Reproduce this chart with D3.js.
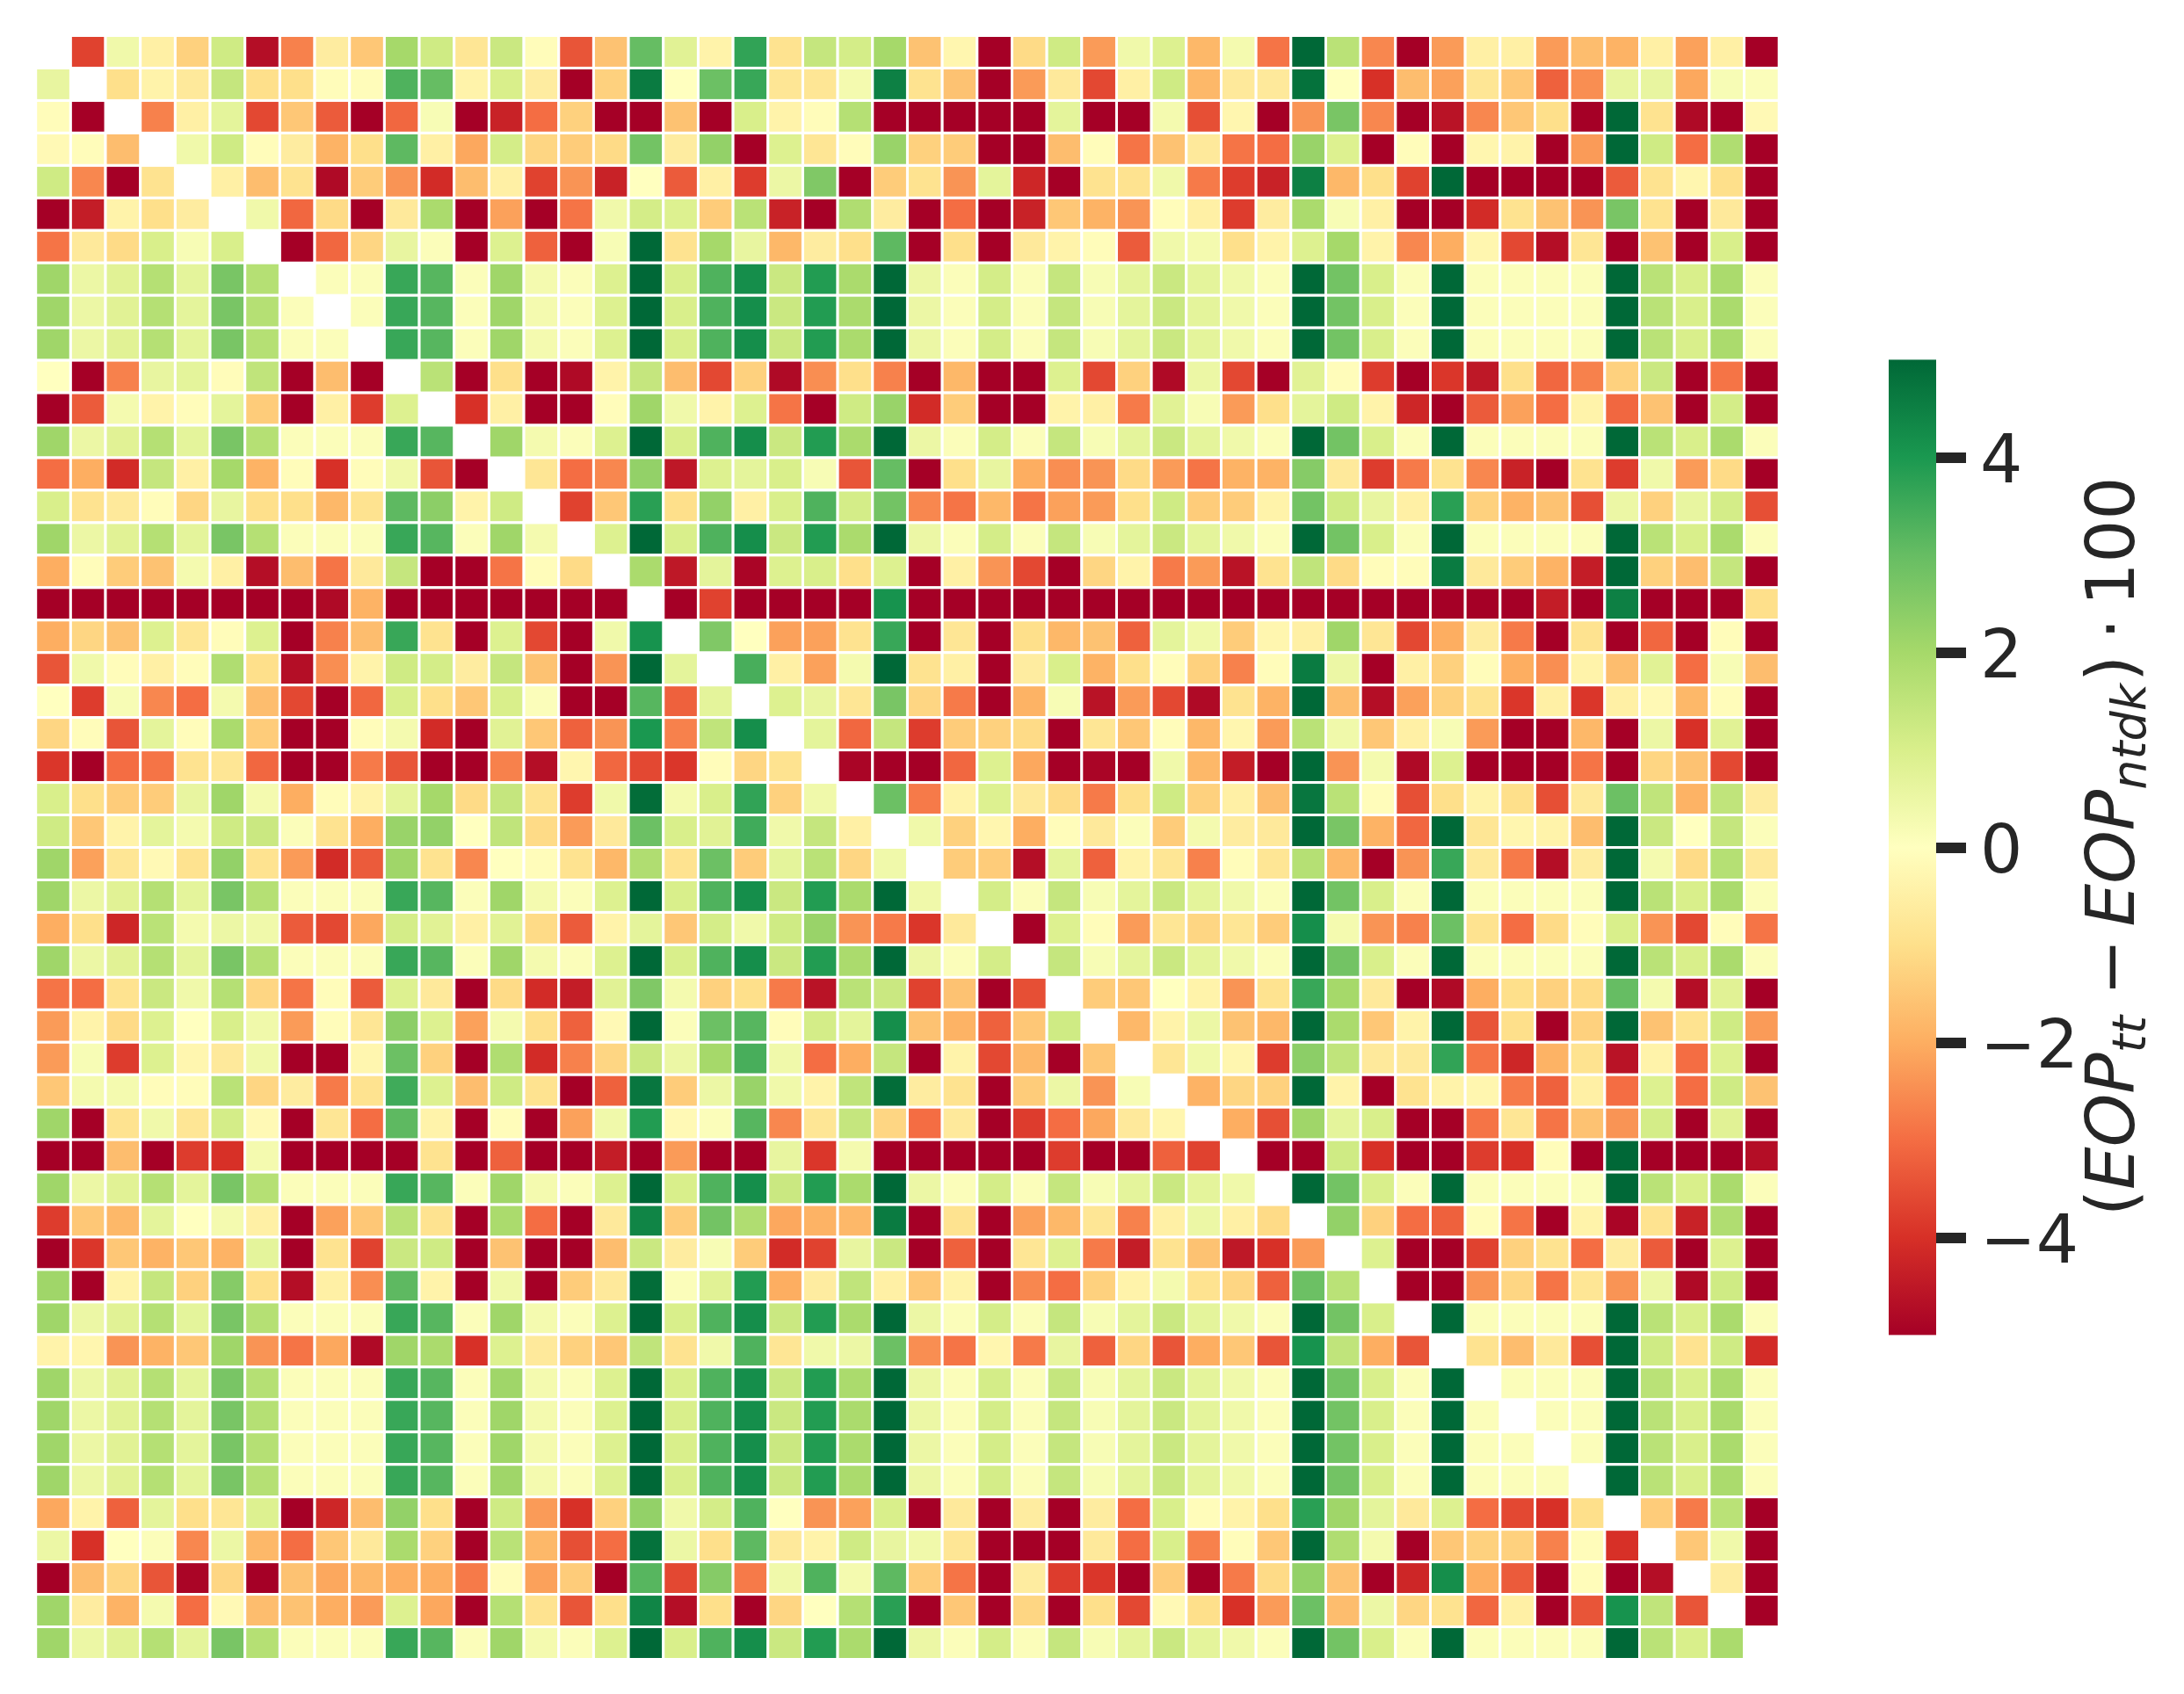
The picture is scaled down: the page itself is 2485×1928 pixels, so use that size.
<!DOCTYPE html>
<html><head><meta charset="utf-8">
<script src="https://cdn.jsdelivr.net/npm/d3@7"></script>
<style>html,body{margin:0;padding:0;background:#fff}svg{display:block}</style>
</head><body><svg id="c" width="2485" height="1928"></svg>
<script>
const colorStops=["#a50026","#d73027","#f46d43","#fdae61","#fee08b","#ffffbf","#d9ef8b","#a6d96a","#66bd63","#1a9850","#006837"];
const colorDomain=[-5,-4,-3,-2,-1,0,1,2,3,4,5];
const barTicks=[-4,-2,0,2,4];
const r00=[null,-3.7,.4,-.5,-1.3,1.2,-4.7,-2.7,-.6,-1.5,2,1.2,-.8,1.3,-.1,-3.4,-1.6,3,.8,-.4,3.7,-.9,1.4,1.1,2,-1.6,-.3,-5,-1.1,1.2,-2.3,.4,.9,-1.8,.3,-2.9,5,1.6,-2.6,-5,-2.3,-.5,-.5,-2.3,-1.7,-1.9,-.5,-2.2,-.5,-5];
const r01=[.6,null,-1,-.4,-.7,1.4,-1,-1,-.1,-.1,3.3,3,-.4,1,-.6,-5,-1.3,4.6,0,2.9,3.6,-.8,-.8,.3,4.5,-.9,-1.6,-5,-2.3,-.7,-3.6,-.5,1.2,-1.8,-.7,-.7,4.8,0,-4,-1.7,-2.2,-.8,-1.5,-3.2,-2.5,.6,.6,-2.1,.2,.1];
const r02=[-.1,-5,null,-2.7,-.5,.7,-3.6,-1.5,-3.3,-5,-3.1,.2,-5,-4.3,-3,-1.3,-5,-5,-1.6,-5,1,-.4,-.1,1.7,-5,-5,-5,-5,-5,.7,-5,-5,.3,-3.5,-.3,-5,-2.4,2.7,-2.6,-5,-4.6,-2.6,-1.5,-1,-5,5,-.9,-4.8,-5,-.2];
const r03=[-.2,-.1,-1.7,null,.4,1.2,-.1,-.6,-1.9,-1,3.1,-.5,-2.1,1.1,-1.2,-1.4,-1.1,2.8,-.6,2.3,-5,.9,-.8,-.1,2.2,-1.3,-1.4,-5,-5,-1.7,-.1,-2.9,-1.6,-.7,-2.9,-3,2.2,.9,-5,-.1,-5,-.3,-.4,-5,-2.3,5,1.2,-3,1.8,-5];
const r04=[1.2,-2.6,-5,-.9,null,-.5,-1.7,-.9,-4.8,-1.4,-2.4,-4.1,-1.7,-.5,-3.7,-2.4,-4.3,0,-3.3,-.5,-3.8,.5,2.6,-5,-1.4,-.9,-2.4,.7,-4.2,-5,-.9,-.9,.4,-2.8,-3.8,-4.3,4.5,-1.8,-1,-3.7,5,-5,-5,-5,-5,-3.3,-.9,-.3,-1,-5];
const r05=[-5,-4.4,-.4,-1,-.6,null,.4,-3.1,-1.1,-5,-.7,1.9,-5,-2.2,-5,-2.9,.4,1.1,.9,-1.4,1.6,-4.3,-5,1.8,-.6,-5,-3,-5,-4.3,-1.5,-1.9,-2.4,-.1,-.5,-3.8,-.6,1.9,.2,-.5,-5,-5,-4.1,-.9,-1.6,-2.4,2.7,-.9,-5,-.7,-5];
const r06=[-2.9,-.7,-1.1,1,.2,1,null,-5,-3.1,-1.2,.6,.1,-5,.9,-3.2,-5,.2,5,-.9,2,.6,-1.8,-.6,-1,3.1,-5,-1,-5,-.7,-.4,-.1,-3.3,.4,.3,-1,-.4,.9,2,-.4,-2.6,-2,-.3,-3.6,-4.7,-.8,-5,-1.6,-5,1,-5];
const r07=[2.1,.5,.8,1.7,.7,2.7,1.7,null,.1,.1,3.6,3.2,.1,2.1,.3,.1,.9,5,1,3.3,4.2,1.3,3.9,1.9,5,.5,.1,1.1,.1,1.4,.2,.7,1.3,.7,.4,.1,5,2.8,1,.1,5,.1,.1,.1,.1,5,1.6,1,1.9,.1];
const r08=[2.1,.5,.8,1.7,.7,2.7,1.7,.1,null,.1,3.6,3.2,.1,2.1,.3,.1,.9,5,1,3.3,4.2,1.3,3.9,1.9,5,.5,.1,1.1,.1,1.4,.2,.7,1.3,.7,.4,.1,5,2.8,1,.1,5,.1,.1,.1,.1,5,1.6,1,1.9,.1];
const r09=[2.1,.5,.8,1.7,.7,2.7,1.7,.1,.1,null,3.6,3.2,.1,2.1,.3,.1,.9,5,1,3.3,4.2,1.3,3.9,1.9,5,.5,.1,1.1,.1,1.4,.2,.7,1.3,.7,.4,.1,5,2.8,1,.1,5,.1,.1,.1,.1,5,1.6,1,1.9,.1];
const r10=[0,-5,-2.7,.6,.7,-.1,1.5,-5,-1.7,-5,null,1.6,-5,-1,-5,-4.8,-.4,1.4,-1.7,-3.6,-1.3,-4.8,-2.5,-1,-2.7,-5,-1.8,-5,-5,.9,-3.6,-1.3,-4.8,.5,-3.6,-5,.8,-.1,-3.8,-5,-3.9,-4.5,-1,-3.1,-2.7,-1.3,1.3,-5,-2.9,-5];
const r11=[-5,-3.3,.3,-.4,-.1,.7,-1.4,-5,-.5,-3.8,.9,null,-4,-.5,-5,-5,-.1,2.1,.4,-.4,.9,-2.9,-5,1.2,2.2,-4.1,-1.4,-5,-5,-.4,-.5,-2.8,.8,.2,-2.3,-1,.7,1.2,-.4,-4.2,-5,-3.3,-2.2,-3,-.4,-3.1,-1.6,-5,1.1,-5];
const r12=[2.1,.5,.8,1.7,.7,2.7,1.7,.1,.1,.1,3.6,3.2,null,2.1,.3,.1,.9,5,1,3.3,4.2,1.3,3.9,1.9,5,.5,.1,1.1,.1,1.4,.2,.7,1.3,.7,.4,.1,5,2.8,1,.1,5,.1,.1,.1,.1,5,1.6,1,1.9,.1];
const r13=[-3,-2,-4.1,1.4,-.5,2,-1.9,-.1,-4,-.1,.4,-3.4,-5,null,-.8,-3,-2.6,2.3,-4.5,.9,.7,1,.2,-3.4,3,-5,-1,.6,-2,-2.5,-2.4,-1.1,-2.3,-2.9,-1.9,-1.9,2.5,-.7,-3.8,-2.8,-.9,-2.6,-4.3,-5,-.9,-3.8,.4,-2.3,-1.1,-5];
const r14=[1,-.9,-.7,-.1,-1.2,.6,-1,-1,-1.8,-.9,3.1,2.4,-.4,1.2,null,-3.7,-1.5,3.8,-1,2.3,-.5,1,3.3,1.1,2.8,-2.6,-2.9,-1.8,-2.9,-2.2,-2.3,-1,1.2,-1.4,-1.4,-.4,2.8,1.2,.6,-.5,3.8,-1.3,-1.9,-1.6,-3.5,.5,-1.3,.6,1.1,-3.5];
const r15=[2.1,.5,.8,1.7,.7,2.7,1.7,.1,.1,.1,3.6,3.2,.1,2.1,.3,null,.9,5,1,3.3,4.2,1.3,3.9,1.9,5,.5,.1,1.1,.1,1.4,.2,.7,1.3,.7,.4,.1,5,2.8,1,.1,5,.1,.1,.1,.1,5,1.6,1,1.9,.1];
const r16=[-2,-.1,-1.4,-1.6,.3,-.5,-4.7,-1.7,-2.9,-.7,1.4,-5,-5,-2.9,-.1,-1.1,null,1.9,-4.5,.7,-4.9,.9,1,-1,.9,-5,-.5,-2.4,-3.6,-5,-1.2,-.4,-2.8,-2.3,-4.6,-.9,1.5,-1.1,-.1,-.1,4.6,-.7,-1.4,-1.9,-4.4,5,-1.3,-1.7,1.4,-5];
const r17=[-5,-5,-5,-5,-5,-5,-5,-5,-4.8,-1.9,-5,-5,-5,-5,-5,-5,-5,null,-5,-3.7,-5,-5,-5,-5,4.1,-5,-5,-5,-5,-5,-5,-5,-5,-5,-5,-5,-5,-5,-5,-5,-5,-5,-5,-4.4,-5,4.5,-5,-5,-5,-1];
const r18=[-2,-1.2,-1.6,.9,-.8,-.1,.9,-5,-2.7,-1.7,3.6,-.9,-5,.9,-3.6,-5,.4,4.1,null,2.6,0,-2.2,-2.2,-.9,3.6,-5,-.8,-5,-1,-1.8,-1.6,-3.2,.7,.4,-1.4,-.3,-.5,2.1,-.8,-3.6,-2,-.6,-2.8,-5,-.9,-5,-3.1,-5,-.1,-5];
const r19=[-3.4,.4,-.1,-.5,-.1,1.8,-1,-4.7,-2.5,-.4,1.2,1.1,-.6,1.4,-1.6,-5,-2.4,5,.7,null,3.4,-.5,-2.2,.3,5,-.9,-.5,-5,-.6,1,-1.9,-1,-.1,-1.3,-2.7,-.1,4.6,.5,-5,-.5,-1.3,-.1,-2,-2.5,-.4,-1.7,.8,-3,.2,-1.7];
const r20=[0,-3.8,.2,-2.6,-3,.3,-1.7,-3.6,-5,-3.1,1,-1,-1.5,1,.1,-5,-5,3.2,-3.2,.7,null,.9,.6,-.8,2.7,-1.2,-2.8,-5,-1.9,.2,-4.6,-2.3,-3.6,-4.8,-.9,-1.9,5,-1.7,-4.7,-2.2,-1.3,-.9,-3.9,-.5,-3.9,-.5,-.2,-1.8,-.1,-5];
const r21=[-1.2,-.1,-3.4,.7,-.1,1.9,-1.4,-5,-5,-.1,.3,-4.1,-5,.8,-1.5,-3.2,-2.4,4,-2.7,1.5,4.2,null,.7,-3.1,1.4,-3.8,-1.4,-1.3,-1.1,-5,-.8,-1.5,-.1,-1.8,-.3,-2.3,1.6,.4,-1.5,-.5,.2,-2.3,-5,-5,-1.8,-5,.5,-4,.8,-5];
const r22=[-3.9,-5,-3,-2.9,-.9,-.8,-3.1,-5,-5,-2.8,-3.4,-5,-5,-2.7,-4.7,-.3,-3.1,-3.6,-3.9,-.1,-1.2,-.9,null,-4.9,-5,-5,-3.1,.9,-2.1,-5,-4.9,-5,.4,-1.8,-4.4,-5,5,-2.4,.3,-4.8,.9,-5,-5,-5,-2.9,-5,-1.2,-1.6,-3.6,-5];
const r23=[1,-1,-1.4,-1.4,.6,2.1,.3,-2,-.1,-.4,.7,2,-1.1,1.4,-.9,-3.8,.4,4.9,.3,1,3.7,-1.3,.4,null,2.9,-2.8,-.4,.9,-.7,-1.1,-2.8,-1,1.2,-1.3,-.5,-1.7,4.7,1.6,-.1,-3.5,-1,-.4,-1,-3.5,-.7,2.9,1.5,-1.9,1.5,-.6];
const r24=[1.2,-1.5,-.4,.7,.3,1.2,1.3,.1,-.9,-2,2.2,2.3,0,1.5,-1.1,-2.3,-.7,2.9,1,.8,3.5,.4,1.4,-.5,null,.4,-1.3,-.3,-2,-.1,-.7,.1,-1.4,.3,-.6,-.7,5,2.7,-1.9,-3.1,5,-.8,-.3,-.4,-1.7,5,1.3,0,1.4,.1];
const r25=[2.1,-2.2,-.8,-.2,-.9,2.3,-.9,-2.3,-4.1,-3.3,2.1,-.9,-2.6,0,-.1,-.9,-1.8,1.8,-.9,2.9,-1.4,.7,1.6,-1.2,.4,null,-1.4,-1.4,-4.7,.7,-3.2,-.4,-.8,-2.7,-.1,-.8,1.7,-1.8,-5,-2.4,3.6,-.7,-2.8,-4.7,-.6,5,.3,-1.1,1.7,-.7];
const r26=[2.1,.5,.8,1.7,.7,2.7,1.7,.1,.1,.1,3.6,3.2,.1,2.1,.3,.1,.9,5,1,3.3,4.2,1.3,3.9,1.9,5,.4,null,1.1,.1,1.4,.2,.7,1.3,.7,.4,.1,5,2.8,1,.1,5,.1,.1,.1,.1,5,1.6,1,1.9,.1];
const r27=[-2,-1,-4.2,1.6,.3,.5,.4,-3.3,-3.6,-2.1,1.1,.8,-.5,.8,-1.1,-3.3,-.4,.7,-1.5,1.1,.4,1.2,2.2,-2.4,-2.8,-3.9,-.7,null,-5,.9,-.1,-2.3,-.8,-1.2,-.8,-1.4,4.2,.3,-2.4,-2.7,2.9,-.9,-3,-1.1,-.1,1,-2.4,-3.6,-.1,-2.9];
const r28=[2.1,.5,.8,1.7,.7,2.7,1.7,.1,.1,.1,3.6,3.2,.1,2.1,.3,.1,.9,5,1,3.3,4.2,1.3,3.9,1.9,5,.5,.1,1.1,null,1.4,.2,.7,1.3,.7,.4,.1,5,2.8,1,.1,5,.1,.1,.1,.1,5,1.6,1,1.9,.1];
const r29=[-2.9,-3,-.9,1.3,.4,1.7,-1.2,-2.9,-.1,-3.3,.9,-.7,-5,-1.1,-4.1,-4.4,.8,2.6,.3,-1.3,-1,-2.8,-4.6,1.6,1.3,-3.7,-1.6,-5,-3.5,null,-1.4,-1.5,0,-.4,-2.4,-.9,3.6,2,-.7,-5,-4.8,-2,-1,-1.3,-1.1,3,.3,-4.7,.8,-5];
const r30=[-2.3,-.4,-1.1,.9,0,1,.4,-2.3,-.1,-.8,2.4,.9,-2.2,.3,-1,-3.2,-.2,5,.1,2.9,3.2,-.1,1.1,.7,4.2,-1.6,-1.9,-3.2,-1.5,1.2,null,-1.8,-.4,.5,-1.6,-1.8,5,1.9,-1.5,-.4,5,-3.4,-1,-5,-1.3,5,-1.6,-.9,1.2,-2.3];
const r31=[-2.3,.2,-3.8,.9,-.3,-.7,.4,-5,-5,-.3,2.9,-1.3,-5,1.8,-4.1,-2.7,-1.2,1.3,.5,2,3.4,.4,-3,-2,1.4,-5,-.4,-3.6,-1.8,-5,-1.5,null,-.8,.4,-.3,-3.8,2.4,1.5,-.7,-.7,3.7,-2.9,-4.2,-1.9,-.9,-4.6,-.4,-3,.9,-5];
const r32=[-1.5,.3,.3,-.1,-.1,1.6,-1.2,-.6,-2.8,-.9,3.5,.9,-1.7,1.2,-.9,-5,-3.2,4.7,-1.4,.5,2.2,.4,-.4,1.5,4.9,-.6,-.9,-5,-1.4,.5,-2.4,.2,null,-1.9,-1.2,-1.3,5,-.4,-5,-.9,-.4,-.3,-2.8,-3.2,-.5,-3,.9,-3,1.2,-1.6];
const r33=[2.1,-5,-.9,.4,-.8,1.1,-.2,-5,-.8,-3,3.1,-.4,-5,-.1,-5,-2.2,.4,3.9,-.2,.1,3.2,-2.6,-.8,1.4,-1.2,-3,-.7,-5,-3.8,-3,-2.1,-.7,-.3,null,-2,-3.5,2.1,.7,1,-5,-5,-2.9,-.8,-2.9,-1.6,-2.4,1.1,-5,.8,-5];
const r34=[-5,-5,-1.7,-5,-3.8,-4,.3,-5,-5,-5,-5,-.9,-5,-3.2,-5,-5,-4.4,-5,-2.3,-5,-5,.6,-3.9,.3,-5,-5,-5,-5,-5,-3.8,-5,-5,-3.2,-3.7,null,-5,-5,1.2,-4,-5,-5,-3.8,-4,-.1,-5,5,-5,-5,-5,-4.7];
const r35=[2.1,.5,.8,1.7,.7,2.7,1.7,.1,.1,.1,3.6,3.2,.1,2.1,.3,.1,.9,5,1,3.3,4.2,1.3,3.9,1.9,5,.5,.1,1.1,.1,1.4,.2,.7,1.3,.7,.4,null,5,2.8,1,.1,5,.1,.1,.1,.1,5,1.6,1,1.9,.1];
const r36=[-3.8,-1.5,-1.8,.7,0,.3,-.5,-5,-2.2,-1.5,1.6,-.9,-5,1.9,-3,-5,-.7,4.4,-1.4,2.8,1.8,-2.1,-1.9,-1.8,4.6,-5,-.9,-5,-2.2,-1.8,-.8,-2.7,-.5,.5,-.5,-1.1,null,2.3,-1.3,-3,-3.2,-.1,-2.9,-5,-.4,-4.9,-.9,-4.3,1.8,-5];
const r37=[-5,-3.9,-1.5,-1.9,-1.5,-1.9,.7,-5,-.9,-3.7,1.3,1.2,-5,-1.6,-5,-5,-1.7,1.3,-.6,.2,-1.4,-4.1,-3.7,.6,1.3,-5,-3.2,-5,-.8,.9,-2.8,-4.4,-.9,-1.6,-4.5,-4,-2.3,null,.9,-5,-5,-3.7,-1.3,-.9,-3,-.6,-3.3,-5,.9,-5];
const r38=[2.1,-5,-.4,1.4,-1.3,2.5,-1,-4.7,-.5,-2.5,3.1,-.4,-5,.4,-5,-1.4,-.7,4.9,.1,.8,3.9,-2,-.6,1.5,-.5,-1.5,-.4,-5,-2.6,-3,-1.3,-.4,.3,-.9,-1.2,-3.2,2.9,1.6,null,-5,-5,-2.4,-1.2,-2.9,-.8,-2.4,.5,-4.8,1.2,-5];
const r39=[2.1,.5,.8,1.7,.7,2.7,1.7,.1,.1,.1,3.6,3.2,.1,2.1,.3,.1,.9,5,1,3.3,4.2,1.3,3.9,1.9,5,.5,.1,1.1,.1,1.4,.2,.7,1.3,.7,.4,.1,5,2.8,1,null,5,.1,.1,.1,.1,5,1.6,1,1.9,.1];
const r40=[-.4,-.3,-2.4,-1.9,-1.5,2.1,-2.4,-2.9,-2.1,-4.8,2.1,1.9,-4,.9,-.7,-1.3,-1.5,1.5,-.9,.4,3.3,-.8,.4,.5,2.9,-2.5,-2.9,-.3,-2.8,.6,-3.2,-1.2,-3.4,-2,-1.5,-3.4,4.1,1.5,-2,-3.4,null,-.9,-1.7,-.7,-3.5,5,1.2,-.9,1.2,-4.1];
const r41=[2.1,.5,.8,1.7,.7,2.7,1.7,.1,.1,.1,3.6,3.2,.1,2.1,.3,.1,.9,5,1,3.3,4.2,1.3,3.9,1.9,5,.5,.1,1.1,.1,1.4,.2,.7,1.3,.7,.4,.1,5,2.8,1,.1,5,null,.1,.1,.1,5,1.6,1,1.9,.1];
const r42=[2.1,.5,.8,1.7,.7,2.7,1.7,.1,.1,.1,3.6,3.2,.1,2.1,.3,.1,.9,5,1,3.3,4.2,1.3,3.9,1.9,5,.5,.1,1.1,.1,1.4,.2,.7,1.3,.7,.4,.1,5,2.8,1,.1,5,.1,null,.1,.1,5,1.6,1,1.9,.1];
const r43=[2.1,.5,.8,1.7,.7,2.7,1.7,.1,.1,.1,3.6,3.2,.1,2.1,.3,.1,.9,5,1,3.3,4.2,1.3,3.9,1.9,5,.5,.1,1.1,.1,1.4,.2,.7,1.3,.7,.4,.1,5,2.8,1,.1,5,.1,.1,null,.1,5,1.6,1,1.9,.1];
const r44=[2.1,.5,.8,1.7,.7,2.7,1.7,.1,.1,.1,3.6,3.2,.1,2.1,.3,.1,.9,5,1,3.3,4.2,1.3,3.9,1.9,5,.5,.1,1.1,.1,1.4,.2,.7,1.3,.7,.4,.1,5,2.8,1,.1,5,.1,.1,.1,null,5,1.6,1,1.9,.1];
const r45=[-2.1,-.4,-3.2,.7,-1,-.8,.9,-5,-4.2,-1.7,2.3,-1,-5,1.2,-2.3,-4,-1.3,2.3,.4,1.1,3.3,0,-2.4,-2.2,1,-5,-.7,-5,-.6,-5,-.6,-3,1,-.1,-.4,-1,3.8,2.1,.7,-.7,.9,-3,-3.6,-4,-1,null,-1.4,-2.8,1.6,-5];
const r46=[.5,-4,0,.1,-2.6,.5,-1.8,-3,-1.5,-.7,1.9,-1.3,-5,1.6,-1.8,-3.5,-3,4.8,.5,-1,3.1,-.7,-.4,1.2,.6,.4,-.8,-5,-5,-5,-.7,-3,1,-2.7,-.1,-1.5,5,1.8,.3,-5,-1.5,-1.3,-1.3,-2.7,-.1,-4,null,-1.5,.4,-5];
const r47=[-5,-1.7,-1.2,-3.4,-4.9,-1.2,-5,-1.6,-2.1,-1.8,-2,-2,-2.8,-.1,-2.2,-1.4,-5,3.2,-3.6,2.5,-2.8,.4,3.3,.3,3.1,-1.4,-2.9,-5,-.6,-3.8,-3.9,-5,-1.4,-5,-2.8,-1.1,2.3,-1.6,-5,-4.2,4.2,-2,-3.3,-5,-.1,-5,-4.7,null,-.6,-5];
const r48=[2.1,-.6,-1.9,.3,-3,-.2,-1.7,-1.6,-2,-2.3,.9,-2.1,-5,1.7,-.9,-3.4,-1,4.4,-4.7,-1,-5,-1.2,0,1.7,3.8,-5,-1.5,-5,-1.2,-5,-1,-3.6,-.2,-1,-4,-2.3,2.9,-1.7,.5,-1.2,-.9,-3.1,-.5,-5,-3.4,4.1,1.5,-3.4,null,-5];
const r49=[2.1,.5,.8,1.7,.7,2.7,1.7,.1,.1,.1,3.6,3.2,.1,2.1,.3,.1,.9,5,1,3.3,4.2,1.3,3.9,1.9,5,.5,.1,1.1,.1,1.4,.2,.7,1.3,.7,.4,.1,5,2.8,1,.1,5,.1,.1,.1,.1,5,1.6,1,1.9,null];
const matrix=[r00,r01,r02,r03,r04,r05,r06,r07,r08,r09,r10,r11,r12,r13,r14,r15,r16,r17,r18,r19,r20,r21,r22,r23,r24,r25,r26,r27,r28,r29,r30,r31,r32,r33,r34,r35,r36,r37,r38,r39,r40,r41,r42,r43,r44,r45,r46,r47,r48,r49];

const svg=d3.select("#c");
const idx=d3.range(matrix.length);
const x=d3.scaleBand().domain(idx).range([40.7,2024.2]);
const y=d3.scaleBand().domain(idx).range([40.5,1888.5]);
const color=d3.scaleLinear().domain(colorDomain).range(colorStops).clamp(true);
const cells=matrix.flatMap((row,r)=>row.map((v,c)=>({r,c,v}))).filter(d=>d.v!==null);
svg.append("g").selectAll("rect").data(cells).join("rect")
  .attr("x",d=>x(d.c)).attr("y",d=>y(d.r))
  .attr("width",x.bandwidth()).attr("height",y.bandwidth())
  .attr("fill",d=>color(d.v)).attr("stroke","#fff").attr("stroke-width",3);

const barY=d3.scaleLinear().domain([-5,5]).range([1519.4,409.4]);
const defs=svg.append("defs");
const grad=defs.append("linearGradient").attr("id","cb").attr("x1",0).attr("y1",1).attr("x2",0).attr("y2",0);
grad.selectAll("stop").data(colorDomain).join("stop")
  .attr("offset",d=>(d+5)/10).attr("stop-color",d=>color(d));
svg.append("rect").attr("x",2149).attr("y",barY(5)).attr("width",54).attr("height",barY(-5)-barY(5)).attr("fill","url(#cb)");
const axis=d3.axisRight(barY).tickValues(barTicks).tickSize(34).tickPadding(16).tickFormat(d3.format("d"));
const ag=svg.append("g").attr("transform","translate(2203,0)").call(axis);
ag.select(".domain").remove();
ag.selectAll("line").attr("stroke","#262626").attr("stroke-width",12);
ag.selectAll("text").attr("fill","#262626").attr("dy",".367em").style("font-family","'DejaVu Sans'").style("font-size","76px");

const fs=77;
const label=svg.append("text").attr("transform","translate(2428,1384) rotate(-90)")
  .attr("text-anchor","start").attr("fill","#262626")
  .style("font-family","'DejaVu Sans'").style("font-size",fs+"px");
const parts=[["(",0,0,1,"normal"],["EOP",0,0,1,"italic"],["tt",0,13,.7,"italic"],["\u2212",23,-13,1,"normal"],["EOP",14,0,1,"italic"],["ntdk",0,13,.7,"italic"],[")",2,-13,1,"normal"],["\u00b7",18,0,1,"normal"],["100",14,0,1,"normal"]];
parts.forEach(p=>label.append("tspan").text(p[0]).attr("dx",p[1]).attr("dy",p[2]).style("font-size",(fs*p[3])+"px").style("font-style",p[4]));
</script></body></html>
